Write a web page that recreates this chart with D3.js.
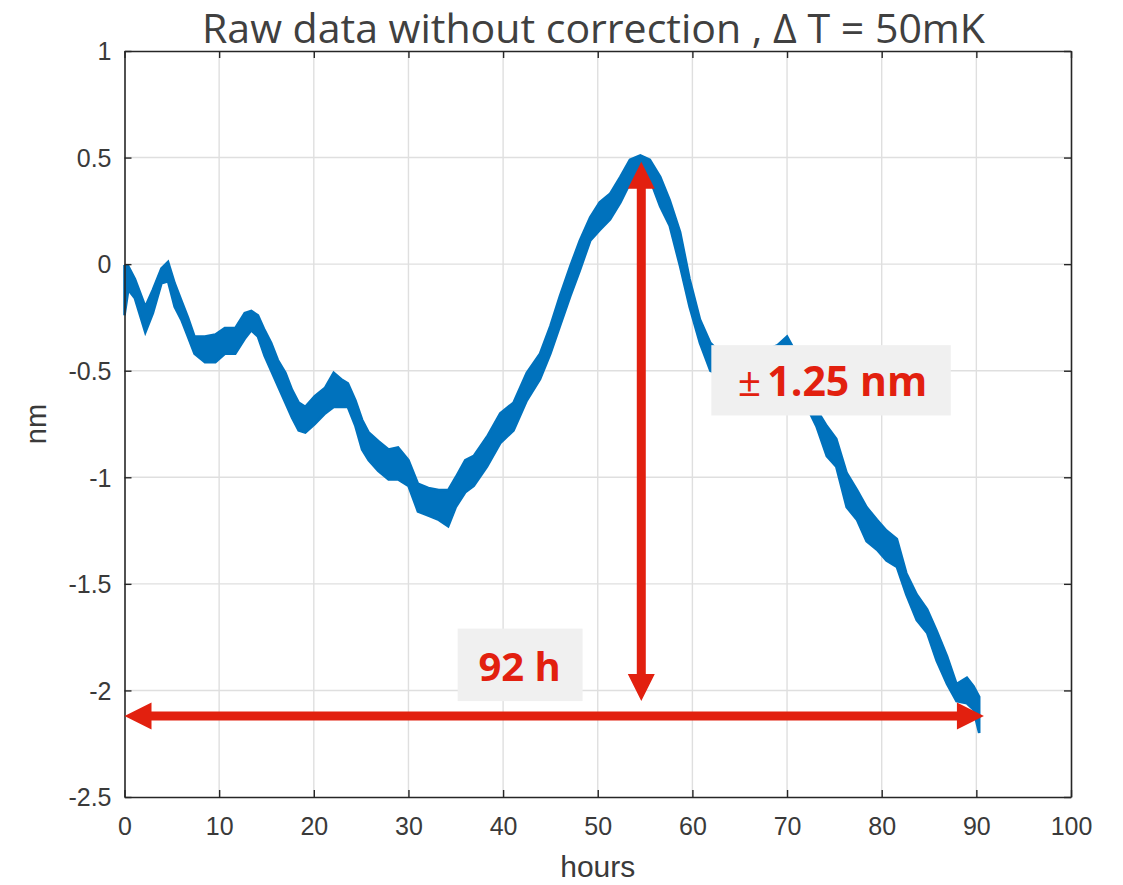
<!DOCTYPE html>
<html>
<head>
<meta charset="utf-8">
<script src="https://cdn.jsdelivr.net/npm/d3@7"></script>
<style>
  html, body { margin: 0; padding: 0; background: #fff; }
  svg { display: block; }
</style>
</head>
<body>
<svg id="chart" width="1123" height="885"></svg>
<script>
// ---- data ----
const hours = [0.0, 0.4, 1.1, 2.2, 3.0, 3.9, 4.6, 5.3, 6.0, 6.7, 7.4, 8.5, 9.6, 10.6, 11.7, 12.7, 13.4, 14.1, 14.8, 15.5,
  16.2, 17.0, 17.7, 18.4, 19.1, 20.1, 21.2, 22.1, 22.9, 23.6, 24.4, 25.1, 25.8, 26.8, 27.9, 28.9, 30.0, 31.0, 32.1, 33.2,
  34.2, 35.0, 36.0, 36.9, 38.3, 39.7, 41.1, 42.5, 43.9, 45.0, 46.0, 47.1, 48.1, 49.2, 50.2, 51.3, 52.4, 53.4, 54.5, 55.5,
  56.6, 57.6, 58.7, 59.7, 60.8, 61.9, 63.0, 65.0, 67.0, 69.0, 70.0, 71.0, 72.0, 73.1, 74.2, 75.2, 76.3, 77.4, 78.4, 79.5,
  80.5, 81.6, 82.6, 83.7, 84.8, 85.8, 86.9, 87.9, 89.0, 89.7, 90.3];
const upper = [-0.01, -0.01, -0.07, -0.20, -0.12, -0.02, 0.01, -0.09, -0.17, -0.25, -0.34, -0.34, -0.33, -0.30, -0.30, -0.23, -0.22, -0.24, -0.31, -0.37,
  -0.45, -0.51, -0.59, -0.65, -0.67, -0.62, -0.58, -0.51, -0.54, -0.56, -0.64, -0.73, -0.79, -0.83, -0.87, -0.86, -0.92, -1.03, -1.05, -1.06,
  -1.06, -1.00, -0.92, -0.90, -0.81, -0.70, -0.65, -0.51, -0.42, -0.29, -0.15, -0.01, 0.11, 0.22, 0.29, 0.33, 0.41, 0.49, 0.51, 0.49,
  0.41, 0.30, 0.15, -0.07, -0.26, -0.37, -0.42, -0.45, -0.42, -0.38, -0.34, -0.42, -0.55, -0.68, -0.76, -0.82, -0.98, -1.06, -1.14, -1.20,
  -1.25, -1.29, -1.45, -1.55, -1.62, -1.72, -1.84, -1.97, -1.94, -1.98, -2.03];
const lower = [-0.24, -0.12, -0.16, -0.32, -0.23, -0.09, -0.08, -0.20, -0.26, -0.34, -0.42, -0.46, -0.46, -0.42, -0.42, -0.35, -0.31, -0.34, -0.43, -0.50,
  -0.57, -0.65, -0.72, -0.78, -0.79, -0.75, -0.70, -0.67, -0.67, -0.67, -0.76, -0.87, -0.92, -0.97, -1.01, -1.01, -1.04, -1.16, -1.18, -1.20,
  -1.23, -1.14, -1.07, -1.04, -0.95, -0.84, -0.78, -0.64, -0.54, -0.42, -0.29, -0.15, -0.03, 0.11, 0.16, 0.21, 0.29, 0.38, 0.44, 0.40,
  0.27, 0.18, -0.01, -0.20, -0.37, -0.50, -0.52, -0.55, -0.52, -0.48, -0.46, -0.55, -0.66, -0.76, -0.90, -0.95, -1.14, -1.20, -1.30, -1.34,
  -1.39, -1.42, -1.55, -1.67, -1.73, -1.86, -1.97, -2.05, -2.06, -2.09, -2.20];

const xTicks = [0, 10, 20, 30, 40, 50, 60, 70, 80, 90, 100];
const xTickLabels = ["0", "10", "20", "30", "40", "50", "60", "70", "80", "90", "100"];
const yTicks = [1, 0.5, 0, -0.5, -1, -1.5, -2, -2.5];
const yTickLabels = ["1", "0.5", "0", "-0.5", "-1", "-1.5", "-2", "-2.5"];

const titleText = "Raw data without correction , \u0394 T = 50mK";
const xLabel = "hours";
const yLabel = "nm";

// annotations (data units)
const vArrow = { x: 54.6, y1: 0.48, y2: -2.05 };
const hArrow = { y: -2.12, x1: 0, x2: 90.8 };
const ampBox = { x1: 62.0, x2: 87.3, y1: -0.38, y2: -0.71, textX: 64.8, textY: -0.618, pm: "\u00b1", label: "1.25 nm" };
const spanBox = { x1: 35.2, x2: 48.4, y1: -1.71, y2: -2.05, textX: 37.4, textY: -1.956, label: "92 h" };

(function draw() {
  const svg = d3.select("#chart");
  const mLeft = 124.5, mRight = 1071, mTop = 51, mBottom = 797;
  const x = d3.scaleLinear().domain([0, 100]).range([mLeft, mRight]);
  const y = d3.scaleLinear().domain([-2.5, 1]).range([mBottom, mTop]);

  const axisColor = "#262626";
  const gridColor = "#dfdfdf";
  const red = "#e2200f";
  const blue = "#0072bd";

  // grid
  const grid = svg.append("g");
  grid.selectAll("line.gx").data(xTicks.slice(1, -1)).join("line")
    .attr("x1", d => x(d)).attr("x2", d => x(d)).attr("y1", mTop).attr("y2", mBottom)
    .attr("stroke", gridColor).attr("stroke-width", 1.4);
  grid.selectAll("line.gy").data(yTicks.slice(1, -1)).join("line")
    .attr("y1", d => y(d)).attr("y2", d => y(d)).attr("x1", mLeft).attr("x2", mRight)
    .attr("stroke", gridColor).attr("stroke-width", 1.4);

  // data band
  const pts = hours.map((h, i) => ({ h, hi: upper[i], lo: lower[i] }));
  svg.append("path").datum(pts)
    .attr("d", d3.area().x(d => x(d.h)).y0(d => y(d.lo)).y1(d => y(d.hi)))
    .attr("fill", blue).attr("stroke", blue).attr("stroke-width", 2.6).attr("stroke-linejoin", "miter");

  // axes box with ticks on all sides
  const tickLen = 7;
  const fontTick = "'Liberation Sans', Arial, sans-serif";
  const gx = svg.append("g").attr("transform", `translate(0,${mBottom})`)
    .call(d3.axisBottom(x).tickValues(xTicks).tickFormat((d, i) => xTickLabels[i]).tickSizeInner(-tickLen).tickSizeOuter(0).tickPadding(20));
  const gxt = svg.append("g").attr("transform", `translate(0,${mTop})`)
    .call(d3.axisTop(x).tickValues(xTicks).tickFormat("").tickSizeInner(-tickLen).tickSizeOuter(0));
  const gy = svg.append("g").attr("transform", `translate(${mLeft},0)`)
    .call(d3.axisLeft(y).tickValues(yTicks).tickFormat((d, i) => yTickLabels[i]).tickSizeInner(-tickLen).tickSizeOuter(0).tickPadding(13));
  const gyr = svg.append("g").attr("transform", `translate(${mRight},0)`)
    .call(d3.axisRight(y).tickValues(yTicks).tickFormat("").tickSizeInner(-tickLen).tickSizeOuter(0));
  [gx, gxt, gy, gyr].forEach(g => {
    g.select(".domain").attr("stroke", axisColor).attr("stroke-width", 1.6);
    g.selectAll(".tick line").attr("stroke", axisColor).attr("stroke-width", 1.4);
    g.selectAll(".tick text").attr("fill", "#3a3a3a").style("font-family", fontTick).style("font-size", "25px");
  });
  gx.selectAll(".tick text").attr("dy", "0.71em");
  gy.selectAll(".tick text").attr("dy", "0.35em");

  // axis labels
  svg.append("text").attr("x", (mLeft + mRight) / 2).attr("y", 877).attr("text-anchor", "middle")
    .attr("fill", "#3a3a3a").style("font-family", fontTick).style("font-size", "30px").text(xLabel);
  svg.append("text").attr("transform", `translate(46,${(mTop + mBottom) / 2}) rotate(-90)`).attr("text-anchor", "middle")
    .attr("fill", "#3a3a3a").style("font-family", fontTick).style("font-size", "29px").text(yLabel);

  // title
  svg.append("text").attr("x", 593.5).attr("y", 43).attr("text-anchor", "middle")
    .attr("fill", "#404040").style("font-family", "'Open Sans', sans-serif").style("font-size", "40px")
    .attr("textLength", 783).attr("lengthAdjust", "spacingAndGlyphs").text(titleText);

  // annotation boxes
  const fontAnn = "'Open Sans', 'Noto Sans', sans-serif";
  svg.append("rect").attr("x", x(ampBox.x1)).attr("y", y(ampBox.y1))
    .attr("width", x(ampBox.x2) - x(ampBox.x1)).attr("height", y(ampBox.y2) - y(ampBox.y1)).attr("fill", "#f0f0f0");
  const t1 = svg.append("text").attr("x", x(ampBox.textX)).attr("y", y(ampBox.textY))
    .attr("fill", red).style("font-family", fontAnn).style("font-size", "41px");
  t1.append("tspan").style("font-weight", "400").text(ampBox.pm);
  t1.append("tspan").attr("dx", 6).style("font-weight", "700").text(ampBox.label);

  svg.append("rect").attr("x", x(spanBox.x1)).attr("y", y(spanBox.y1))
    .attr("width", x(spanBox.x2) - x(spanBox.x1)).attr("height", y(spanBox.y2) - y(spanBox.y1)).attr("fill", "#f0f0f0");
  svg.append("text").attr("x", x(spanBox.textX)).attr("y", y(spanBox.textY))
    .attr("fill", red).style("font-family", fontAnn).style("font-size", "40px").style("font-weight", "700").text(spanBox.label);

  // arrows
  const shaft = 9, headW = 27, headL = 27;
  function dblArrowV(cx, ya, yb) {
    const s = shaft / 2, w = headW / 2;
    return `M${cx},${ya} L${cx + w},${ya + headL} L${cx + s},${ya + headL} L${cx + s},${yb - headL} L${cx + w},${yb - headL} L${cx},${yb}` +
      ` L${cx - w},${yb - headL} L${cx - s},${yb - headL} L${cx - s},${ya + headL} L${cx - w},${ya + headL} Z`;
  }
  function dblArrowH(cy, xa, xb) {
    const s = shaft / 2, w = headW / 2;
    return `M${xa},${cy} L${xa + headL},${cy - w} L${xa + headL},${cy - s} L${xb - headL},${cy - s} L${xb - headL},${cy - w} L${xb},${cy}` +
      ` L${xb - headL},${cy + w} L${xb - headL},${cy + s} L${xa + headL},${cy + s} L${xa + headL},${cy + w} Z`;
  }
  svg.append("path").attr("d", dblArrowV(x(vArrow.x), y(vArrow.y1), y(vArrow.y2))).attr("fill", red);
  svg.append("path").attr("d", dblArrowH(y(hArrow.y), x(hArrow.x1), x(hArrow.x2))).attr("fill", red);
})();
</script>
</body>
</html>
